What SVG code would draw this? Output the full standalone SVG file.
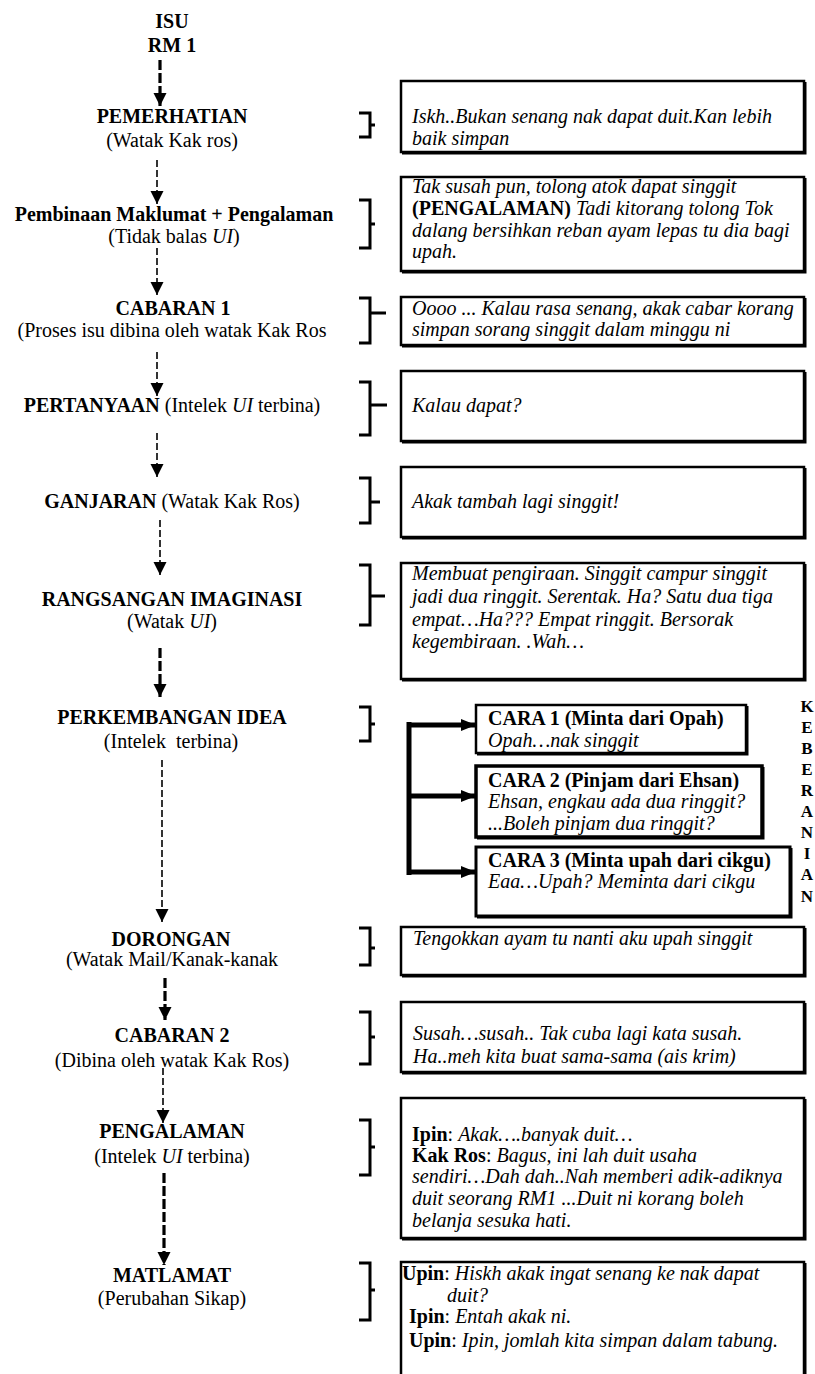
<svg xmlns="http://www.w3.org/2000/svg" width="815" height="1374" viewBox="0 0 815 1374">
<style>
text{font-family:"Liberation Serif","Times New Roman",serif;font-size:20px;fill:#000}
.c{text-anchor:middle}
.b{font-weight:bold}
.i{font-style:italic}
.box{fill:#fff;stroke:#000;stroke-width:2.5}
.sh{fill:none;stroke:#000;stroke-width:2}
.br{fill:none;stroke:#000;stroke-width:3}
.thin{fill:none;stroke:#000;stroke-width:1.6;stroke-dasharray:7 3}
.thick{fill:none;stroke:#000;stroke-width:3.2;stroke-dasharray:10 3}
.solid{fill:none;stroke:#000;stroke-width:5}
.kb{font-weight:bold;font-size:17px;text-anchor:middle}
</style>
<defs>
<marker id="ah" markerUnits="userSpaceOnUse" markerWidth="14" markerHeight="14" viewBox="0 0 14 14" refX="13" refY="7" orient="auto">
<path d="M0,0.5 L13,7 L0,13.5 Z" fill="#000"/>
</marker>
<marker id="ar" markerUnits="userSpaceOnUse" markerWidth="16" markerHeight="14" viewBox="0 0 16 14" refX="15" refY="7" orient="auto">
<path d="M0,1 L15,7 L0,13 Z" fill="#000"/>
</marker>
</defs>
<rect width="815" height="1374" fill="#fff"/>

<g id="connectors">
<line class="thick" x1="160" y1="60" x2="160" y2="106" marker-end="url(#ah)"/>
<line class="thin" x1="157" y1="160" x2="157" y2="204" marker-end="url(#ah)"/>
<line class="thin" x1="157" y1="248" x2="157" y2="295" marker-end="url(#ah)"/>
<line class="thin" x1="157" y1="352" x2="157" y2="396" marker-end="url(#ah)"/>
<line class="thin" x1="157" y1="433" x2="157" y2="477" marker-end="url(#ah)"/>
<line class="thin" x1="160" y1="520" x2="160" y2="575" marker-end="url(#ah)"/>
<line class="thick" x1="160" y1="648" x2="160" y2="697" marker-end="url(#ah)"/>
<line class="thin" x1="162" y1="760" x2="162" y2="922" marker-end="url(#ah)"/>
<line class="thick" x1="165" y1="978" x2="165" y2="1020" marker-end="url(#ah)"/>
<line class="thin" x1="163" y1="1068" x2="163" y2="1123" marker-end="url(#ah)"/>
<line class="thick" x1="164" y1="1173" x2="164" y2="1265" marker-end="url(#ah)"/>
<path class="solid" d="M409,722 V875"/>
<line class="solid" x1="407" y1="725" x2="476" y2="725" marker-end="url(#ar)"/>
<line class="solid" x1="407" y1="796" x2="476" y2="796" marker-end="url(#ar)"/>
<line class="solid" x1="407" y1="872" x2="476" y2="872" marker-end="url(#ar)"/>
<path class="br" d="M359,113 H370 V137 H359 M370,125 H375"/>
<path class="br" d="M359,200 H370 V248 H359 M370,224 H375"/>
<path class="br" d="M359,298 H370 V343 H359 M370,313 H386"/>
<path class="br" d="M359,382 H370 V435 H359 M370,405 H387"/>
<path class="br" d="M359,478 H370 V523 H359 M370,502 H380"/>
<path class="br" d="M359,565 H370 V625 H359 M370,596 H385"/>
<path class="br" d="M359,707 H370 V741 H359 M370,724 H375"/>
<path class="br" d="M359,928 H370 V965 H359 M370,948 H375"/>
<path class="br" d="M359,1012 H370 V1064 H359 M370,1037 H375"/>
<path class="br" d="M359,1120 H370 V1175 H359 M370,1147 H375"/>
<path class="br" d="M359,1263 H370 V1320 H359 M370,1290 H375"/>
</g>

<g id="isu">
<text class="c b" x="172" y="28">ISU</text>
<text class="c b" x="172" y="52">RM 1</text>
</g>

<g id="pemerhatian">
<text class="c b" x="172" y="123">PEMERHATIAN</text>
<text class="c" x="172" y="147">(Watak Kak ros)</text>
</g>

<g id="pembinaan">
<text class="c b" x="174" y="221">Pembinaan Maklumat + Pengalaman</text>
<text class="c" x="174" y="243">(Tidak balas <tspan class="i">UI</tspan>)</text>
</g>

<g id="cabaran1">
<text class="c b" x="173" y="315">CABARAN 1</text>
<text class="c" x="172" y="337">(Proses isu dibina oleh watak Kak Ros</text>
</g>

<g id="pertanyaan">
<text class="c" x="172" y="412"><tspan class="b">PERTANYAAN</tspan> (Intelek <tspan class="i">UI</tspan> terbina)</text>
</g>

<g id="ganjaran">
<text class="c" x="172" y="508"><tspan class="b">GANJARAN</tspan> (Watak Kak Ros)</text>
</g>

<g id="rangsangan">
<text class="c b" x="172" y="606">RANGSANGAN IMAGINASI</text>
<text class="c" x="172" y="628">(Watak <tspan class="i">UI</tspan>)</text>
</g>

<g id="perkembangan">
<text class="c b" x="172" y="724">PERKEMBANGAN IDEA</text>
<text class="c" x="171" y="748" xml:space="preserve">(Intelek  terbina)</text>
</g>

<g id="dorongan">
<text class="c b" x="171" y="946">DORONGAN</text>
<text class="c" x="172" y="966">(Watak Mail/Kanak-kanak</text>
</g>

<g id="cabaran2">
<text class="c b" x="172" y="1042">CABARAN 2</text>
<text class="c" x="172" y="1067">(Dibina oleh watak Kak Ros)</text>
</g>

<g id="pengalaman">
<text class="c b" x="172" y="1138">PENGALAMAN</text>
<text class="c" x="172" y="1163">(Intelek <tspan class="i">UI</tspan> terbina)</text>
</g>

<g id="matlamat">
<text class="c b" x="172" y="1282">MATLAMAT</text>
<text class="c" x="172" y="1305">(Perubahan Sikap)</text>
</g>

<g id="box1">
<rect class="box" x="401" y="81" width="403" height="71"/>
<polyline class="sh" points="805.5,82 805.5,153.5 402,153.5"/>
<text class="i" x="412" y="123">Iskh..Bukan senang nak dapat duit.Kan lebih</text>
<text class="i" x="412" y="145">baik simpan</text>
</g>

<g id="box2">
<rect class="box" x="401" y="177" width="403" height="94"/>
<polyline class="sh" points="805.5,178 805.5,272.5 402,272.5"/>
<text class="i" x="412" y="193">Tak susah pun, tolong atok dapat singgit</text>
<text x="412" y="215"><tspan class="b">(PENGALAMAN)</tspan> <tspan class="i">Tadi kitorang tolong Tok</tspan></text>
<text class="i" x="412" y="237">dalang bersihkan reban ayam lepas tu dia bagi</text>
<text class="i" x="412" y="258">upah.</text>
</g>

<g id="box3">
<rect class="box" x="401" y="297" width="403" height="48"/>
<polyline class="sh" points="805.5,298 805.5,346.5 402,346.5"/>
<text class="i" x="412" y="315">Oooo ... Kalau rasa senang, akak cabar korang</text>
<text class="i" x="412" y="336">simpan sorang singgit dalam minggu ni</text>
</g>

<g id="box4">
<rect class="box" x="401" y="371" width="403" height="70"/>
<polyline class="sh" points="805.5,372 805.5,442.5 402,442.5"/>
<text class="i" x="412" y="412">Kalau dapat?</text>
</g>

<g id="box5">
<rect class="box" x="401" y="467" width="403" height="70"/>
<polyline class="sh" points="805.5,468 805.5,538.5 402,538.5"/>
<text class="i" x="412" y="508">Akak tambah lagi singgit!</text>
</g>

<g id="box6">
<rect class="box" x="401" y="563" width="403" height="116"/>
<polyline class="sh" points="805.5,564 805.5,680.5 402,680.5"/>
<text class="i" x="412" y="580">Membuat pengiraan. Singgit campur singgit</text>
<text class="i" x="412" y="603">jadi dua ringgit. Serentak. Ha? Satu dua tiga</text>
<text class="i" x="412" y="626">empat…Ha??? Empat ringgit. Bersorak</text>
<text class="i" x="412" y="648">kegembiraan. .Wah…</text>
</g>

<g id="cara1">
<rect class="box" x="476" y="705" width="270" height="48"/>
<polyline class="sh" points="747.5,706 747.5,754.5 477,754.5"/>
<text class="b" x="488" y="725">CARA 1 (Minta dari Opah)</text>
<text class="i" x="488" y="747">Opah…nak singgit</text>
</g>

<g id="cara2">
<rect class="box" x="476" y="766" width="286" height="71" style="stroke-width:3.5"/>
<polyline class="sh" points="763.5,767 763.5,838.5 477,838.5"/>
<text class="b" x="488" y="787">CARA 2 (Pinjam dari Ehsan)</text>
<text class="i" x="488" y="808">Ehsan, engkau ada dua ringgit?</text>
<text class="i" x="488" y="830">...Boleh pinjam dua ringgit?</text>
</g>

<g id="cara3">
<rect class="box" x="476" y="847" width="314" height="69" style="stroke-width:3"/>
<polyline class="sh" points="791.5,848 791.5,917.5 477,917.5"/>
<text class="b" x="488" y="867">CARA 3 (Minta upah dari cikgu)</text>
<text class="i" x="488" y="888">Eaa…Upah? Meminta dari cikgu</text>
</g>

<g id="keberanian">
<text class="kb" x="807" y="712">K</text>
<text class="kb" x="807" y="733">E</text>
<text class="kb" x="807" y="754">B</text>
<text class="kb" x="807" y="775">E</text>
<text class="kb" x="807" y="796">R</text>
<text class="kb" x="807" y="817">A</text>
<text class="kb" x="807" y="838">N</text>
<text class="kb" x="807" y="859">I</text>
<text class="kb" x="807" y="880">A</text>
<text class="kb" x="807" y="902">N</text>
</g>

<g id="box7">
<rect class="box" x="401" y="927" width="403" height="48"/>
<polyline class="sh" points="805.5,928 805.5,976.5 402,976.5"/>
<text class="i" x="413" y="945">Tengokkan ayam tu nanti aku upah singgit</text>
</g>

<g id="box8">
<rect class="box" x="401" y="1002" width="403" height="70"/>
<polyline class="sh" points="805.5,1003 805.5,1073.5 402,1073.5"/>
<text class="i" x="413" y="1040">Susah…susah.. Tak cuba lagi kata susah.</text>
<text class="i" x="413" y="1063">Ha..meh kita buat sama-sama (ais krim)</text>
</g>

<g id="box9">
<rect class="box" x="401" y="1098" width="403" height="140"/>
<polyline class="sh" points="805.5,1099 805.5,1239.5 402,1239.5"/>
<text x="412" y="1141"><tspan class="b">Ipin</tspan>: <tspan class="i">Akak….banyak duit…</tspan></text>
<text x="412" y="1162"><tspan class="b">Kak Ros</tspan>: <tspan class="i">Bagus, ini lah duit usaha</tspan></text>
<text class="i" x="412" y="1183">sendiri…Dah dah..Nah memberi adik-adiknya</text>
<text class="i" x="412" y="1205">duit seorang RM1 ...Duit ni korang boleh</text>
<text class="i" x="412" y="1227">belanja sesuka hati.</text>
</g>

<g id="box10">
<rect class="box" x="401" y="1262" width="403" height="130"/>
<line class="sh" x1="805.5" y1="1263" x2="805.5" y2="1374"/>
<text x="402" y="1280"><tspan class="b">Upin</tspan>: <tspan class="i">Hiskh akak ingat senang ke nak dapat</tspan></text>
<text class="i" x="447" y="1302">duit?</text>
<text x="409" y="1323"><tspan class="b">Ipin</tspan>: <tspan class="i">Entah akak ni.</tspan></text>
<text x="409" y="1347"><tspan class="b">Upin</tspan>: <tspan class="i">Ipin, jomlah kita simpan dalam tabung.</tspan></text>
</g>
</svg>
